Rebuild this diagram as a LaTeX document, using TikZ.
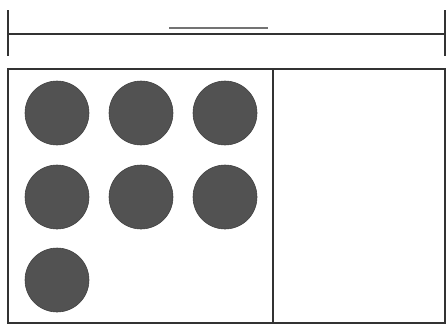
\documentclass[tikz,border=0pt]{standalone}
\usepackage{tikz}
\usetikzlibrary{positioning,calc}

\begin{document}
\begin{tikzpicture}[
  x=0.25mm, y=-0.25mm,
  edge/.style={draw=black!80, line width=1.3pt},
  dot/.style={circle, fill=black!68, draw=black!75, line width=0.4pt,
               minimum size=16mm, inner sep=0pt},
  label line/.style={draw=black!55, line width=0.8pt}
]
\useasboundingbox (0,0) rectangle (447,325);

%% --- Dimension bar --------------------------------------------
\coordinate (barL) at (8,34);
\coordinate (barR) at (445,34);
\draw[edge] (barL) -- (barR);
\draw[edge] ($(barL)+(0,-24)$) -- ($(barL)+(0,22)$);
\draw[edge] ($(barR)+(0,-24)$) -- ($(barR)+(0,22)$);

%% --- Label placeholder ----------------------------------------
\coordinate (labL) at (169,28);
\coordinate (labR) at (268,28);
\draw[label line] (labL) -- (labR);

%% --- Panels ----------------------------------------------------
\coordinate (boxNW) at (8,69);
\coordinate (boxSE) at (445,323);
\coordinate (divN) at (273,69);
\coordinate (divS) at (273,323);
\draw[edge] (boxNW) rectangle (boxSE);
\draw[edge] (divN) -- (divS);

%% --- Counters --------------------------------------------------
\foreach \r/\y in {1/113, 2/197} {
  \foreach \c/\x in {1/57, 2/141, 3/225} {
    \node[dot] (d\r\c) at (\x,\y) {};
  }
}
\node[dot] (d31) at (57,280) {};

\end{tikzpicture}
\end{document}
